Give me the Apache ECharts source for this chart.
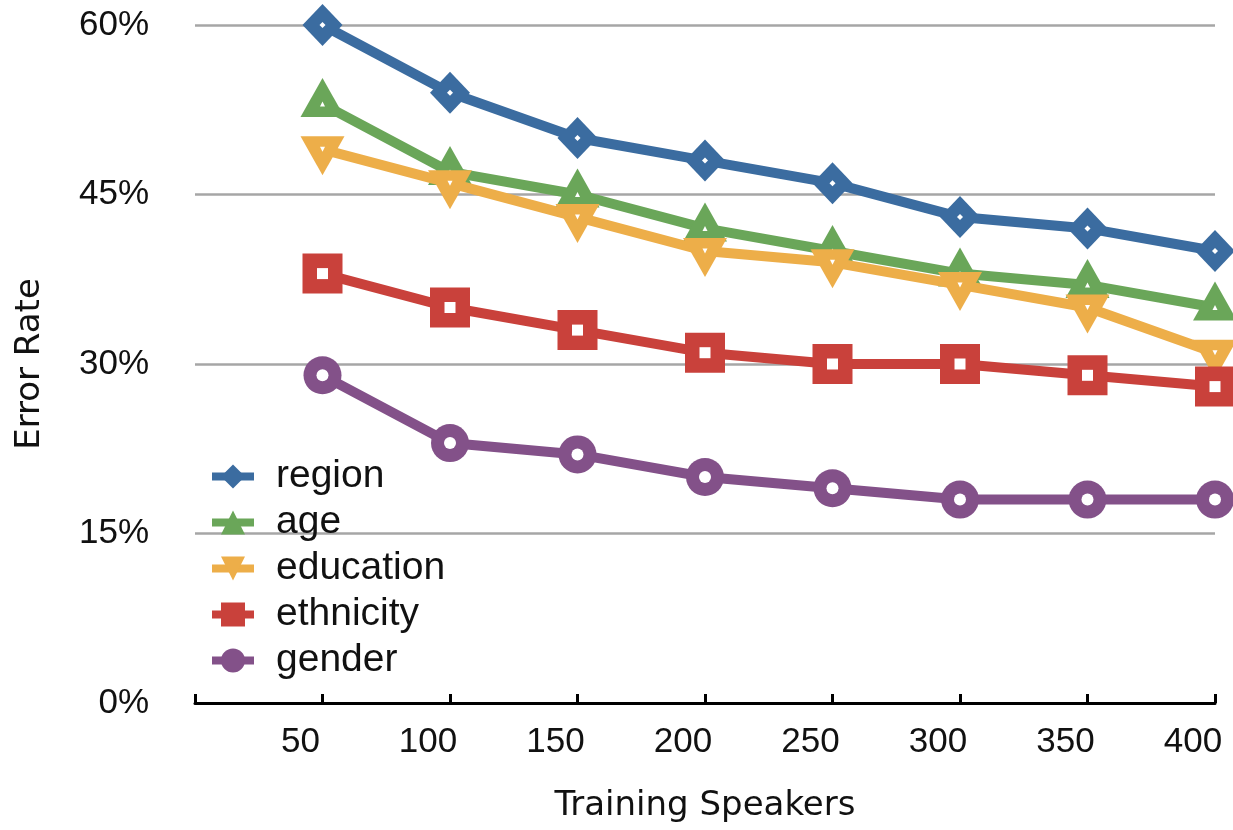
<!DOCTYPE html>
<html>
<head>
<meta charset="utf-8">
<script src="https://cdn.jsdelivr.net/npm/echarts@6/dist/echarts.min.js"></script>
<style>html,body{margin:0;padding:0;background:#fff}#c{width:1233px;height:830px}</style>
</head>
<body>
<div id="c"></div>
<script>
const speakers = [50, 100, 150, 200, 250, 300, 350, 400];
const region = [60, 54, 50, 48, 46, 43, 42, 40];
const age = [53, 47, 45, 42, 40, 38, 37, 35];
const education = [49, 46, 43, 40, 39, 37, 35, 31];
const ethnicity = [38, 35, 33, 31, 30, 30, 29, 28];
const gender = [29, 23, 22, 20, 19, 18, 18, 18];
const yTicks = [0, 15, 30, 45, 60];

const LIB = '"Liberation Sans", Helvetica, Arial, sans-serif';
const DJV = '"DejaVu Sans", sans-serif';
const pair = arr => speakers.map((x, i) => [x, arr[i]]);

function line(name, data, color, symbol, size, offset, rotate, z) {
  return {
    name, type: 'line', data: pair(data), z,
    symbol, symbolSize: size, symbolOffset: offset || [0, 0], symbolRotate: rotate || 0,
    showAllSymbol: true,
    lineStyle: { color, width: 10 },
    itemStyle: { color, borderWidth: 0 },
    emphasis: { disabled: true },
    animation: false
  };
}
function dots(data, symbol, size, rotate, z) {
  return {
    name: '_dot', type: 'scatter', data: pair(data), silent: true, z,
    symbol, symbolSize: size, symbolRotate: rotate || 0,
    itemStyle: { color: '#ffffff', opacity: 1 },
    emphasis: { disabled: true }, animation: false
  };
}

const chart = echarts.init(document.getElementById('c'), null, { renderer: 'canvas' });
chart.setOption({
  backgroundColor: '#fff',
  animation: false,
  textStyle: { fontFamily: LIB },
  grid: { left: 195, right: 18, top: 25, bottom: 127, containLabel: false, outerBoundsMode: 'none' },
  legend: {
    orient: 'vertical', left: 203, top: 452,
    itemWidth: 42, itemHeight: 30, itemGap: 7,
    lineStyle: { width: 8 },
    textStyle: { fontSize: 39, color: '#111', fontFamily: LIB, padding: [0, 0, 0, 17] },
    data: ['region', 'age', 'education', 'ethnicity', 'gender']
  },
  xAxis: {
    type: 'value', min: 0, max: 400, interval: 50,
    name: 'Training Speakers', nameLocation: 'middle', nameGap: 86,
    nameTextStyle: { fontSize: 34, color: '#111', fontFamily: DJV },
    axisLine: { show: true, lineStyle: { color: '#000', width: 3 } },
    axisTick: { show: true, inside: true, length: 9, lineStyle: { color: '#000', width: 3 } },
    axisLabel: { fontSize: 35, color: '#111', margin: 22, fontFamily: LIB,
      padding: [0, 44, 0, 0],
      formatter: v => (v === 0 ? '' : String(v)) },
    splitLine: { show: false }
  },
  yAxis: {
    type: 'value', min: yTicks[0], max: yTicks[yTicks.length - 1], interval: 15,
    name: 'Error Rate', nameLocation: 'middle', nameGap: 148, nameRotate: 90,
    nameTextStyle: { fontSize: 34, color: '#111', fontFamily: DJV },
    axisLine: { show: false }, axisTick: { show: false },
    axisLabel: { fontSize: 35, color: '#111', margin: 46, fontFamily: LIB, formatter: v => v + '%' },
    splitLine: { show: true, lineStyle: { color: '#a6a6a6', width: 2.5 } }
  },
  series: [
    line('region', region, '#3b6ca0', 'diamond', [40, 42], null, 0, 2),
    dots(region, 'diamond', 6, 0, 3),
    line('age', age, '#6aa659', 'triangle', [44, 39], [0, -6.5], 0, 4),
    dots(age, 'triangle', 5, 0, 5),
    line('education', education, '#edae49', 'triangle', [44, 39], [0, 6.5], 180, 6),
    dots(education, 'triangle', 5, 180, 7),
    line('ethnicity', ethnicity, '#c9413b', 'rect', [40, 40], null, 0, 8),
    dots(ethnicity, 'rect', 11, 0, 9),
    line('gender', gender, '#835189', 'circle', [38, 38], null, 0, 10),
    dots(gender, 'circle', 12, 0, 11)
  ]
});
</script>
</body>
</html>
